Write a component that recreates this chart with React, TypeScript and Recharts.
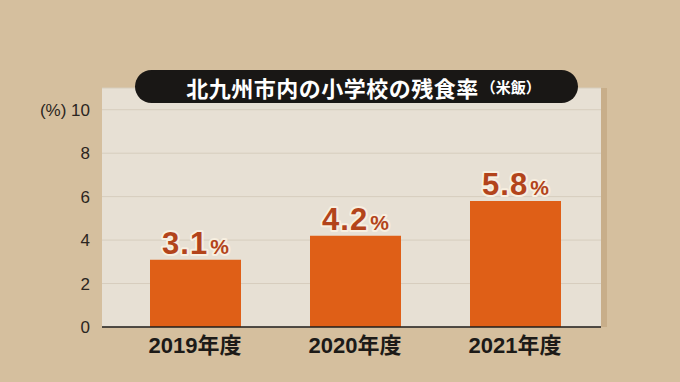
import { BarChart, Bar, XAxis, YAxis, CartesianGrid, LabelList } from "recharts";

const years = ["2019年度", "2020年度", "2021年度"];
const rates = [3.1, 4.2, 5.8];
const yTicks = [0, 2, 4, 6, 8, 10];
const title = "北九州市内の小学校の残食率";
const titleNote = "（米飯）";
const unit = "(%)";

const data = years.map((year, i) => ({ year, rate: rates[i] }));

const FONT = "'Liberation Sans', 'Noto Sans CJK JP', sans-serif";

function YTick(props: any) {
  const { x, y, payload } = props;
  return (
    <text x={x} y={y} dy={6} textAnchor="end" fontSize={17} fill="#2b2521" fontFamily={FONT}>
      {payload.value === 10 ? `${unit} 10` : payload.value}
    </text>
  );
}

function XTick(props: any) {
  const { x, y, payload } = props;
  return (
    <text x={x} y={y} dy={18} textAnchor="middle" fontSize={22} fontWeight={700} fill="#1c1a18" fontFamily={FONT}>
      {payload.value}
    </text>
  );
}

function RateLabel(props: any) {
  const { x, y, width, value } = props;
  return (
    <text
      x={x + width / 2}
      y={y - 6}
      textAnchor="middle"
      fontFamily={FONT}
      fontWeight={700}
      fill="#b3441b"
      stroke="#f7efe0"
      strokeWidth={4}
      strokeLinejoin="round"
      style={{ paintOrder: "stroke" }}
    >
      <tspan fontSize={31} letterSpacing={1}>{value.toFixed(1)}</tspan>
      <tspan fontSize={21} dx={2}>%</tspan>
    </text>
  );
}

export default function App() {
  return (
    <div style={{ position: "fixed", left: 0, top: 0, width: 680, height: 382, background: "#d5bf9e", overflow: "hidden" }}>
      <div style={{ position: "absolute", left: 601, top: 88, width: 6, height: 239, background: "#c8ae8a" }} />
      <BarChart
        width={680}
        height={382}
        data={data}
        margin={{ top: 88, right: 79, bottom: 25, left: 0 }}
      >
        <CartesianGrid vertical={false} stroke="#d6cdbd" fill="#e7e0d4" fillOpacity={1} />
        <XAxis
          dataKey="year"
          height={30}
          tick={<XTick />}
          tickLine={false}
          axisLine={{ stroke: "#1f1c1a", strokeWidth: 1.5 }}
          padding={{ left: 13, right: 6 }}
        />
        <YAxis
          width={102}
          domain={[0, 11]}
          ticks={yTicks}
          tick={<YTick />}
          tickLine={false}
          axisLine={false}
          tickMargin={6}
        />
        <Bar dataKey="rate" fill="#df5f17" barSize={91} isAnimationActive={false}>
          <LabelList dataKey="rate" content={<RateLabel />} />
        </Bar>
      </BarChart>
      <div
        style={{
          position: "absolute",
          left: 135,
          top: 70,
          width: 443,
          height: 33,
          boxSizing: "border-box",
          paddingLeft: 14,
          borderRadius: 17,
          background: "#191715",
          color: "#fff",
          display: "flex",
          alignItems: "center",
          justifyContent: "center",
          fontFamily: FONT,
          fontWeight: 700,
        }}
      >
        <span style={{ fontSize: 22, letterSpacing: 0.5 }}>{title}</span>
        <span style={{ fontSize: 15, marginLeft: 2 }}>{titleNote}</span>
      </div>
    </div>
  );
}
